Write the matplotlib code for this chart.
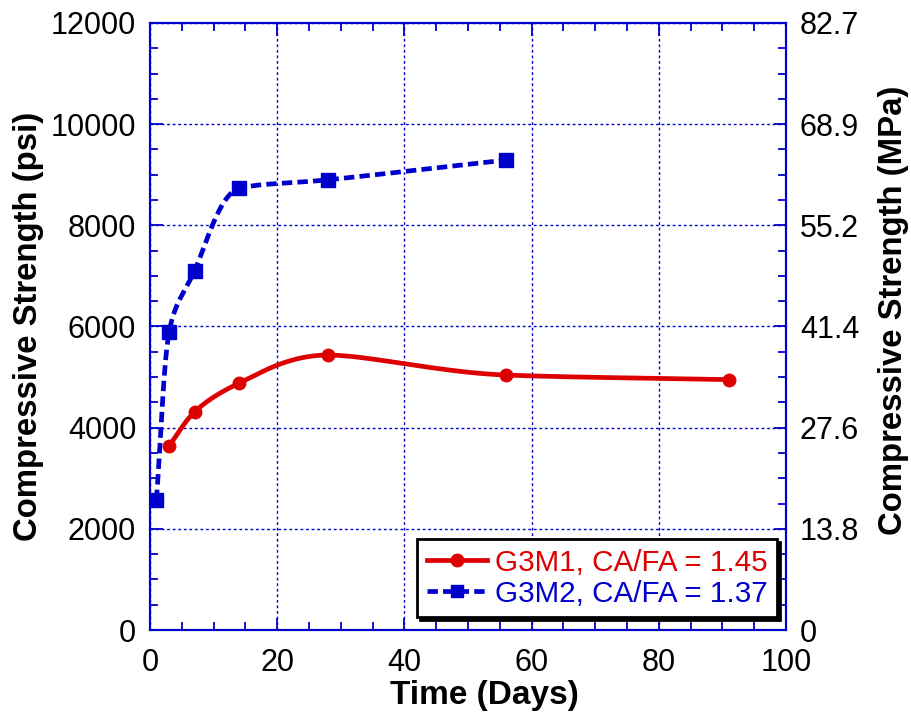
import numpy as np
import matplotlib
matplotlib.use("Agg")
import matplotlib.pyplot as plt
from matplotlib.ticker import MultipleLocator, FixedLocator

plt.rcParams['font.family'] = ['Liberation Sans', 'DejaVu Sans']

# ---- data ----
days_g3m1 = [3, 7, 14, 28, 56, 91]
psi_g3m1 = [3640, 4310, 4880, 5435, 5040, 4950]
days_g3m2 = [1, 3, 7, 14, 28, 56]
psi_g3m2 = [2570, 5890, 7100, 8730, 8900, 9290]
label_g3m1 = "G3M1, CA/FA = 1.45"
label_g3m2 = "G3M2, CA/FA = 1.37"
psi_ticks = [0, 2000, 4000, 6000, 8000, 10000, 12000]
mpa_labels = ["0", "13.8", "27.6", "41.4", "55.2", "68.9", "82.7"]
x_ticks = [0, 20, 40, 60, 80, 100]

RED = '#dd0000'
BLUE = '#0000cc'
XMAX, YMAX = 100.0, 12000.0


def _pchip_1d(t, v, tt):
    h = np.diff(t); d = np.diff(v) / h
    m = np.zeros_like(v)
    for k in range(1, len(t) - 1):
        if d[k - 1] * d[k] > 0:
            w1 = 2 * h[k] + h[k - 1]; w2 = h[k] + 2 * h[k - 1]
            m[k] = (w1 + w2) / (w1 / d[k - 1] + w2 / d[k])
    m[0] = d[0]; m[-1] = d[-1]
    idx = np.clip(np.searchsorted(t, tt) - 1, 0, len(t) - 2)
    s = (tt - t[idx]) / h[idx]
    h00 = 2 * s**3 - 3 * s**2 + 1; h10 = s**3 - 2 * s**2 + s
    h01 = -2 * s**3 + 3 * s**2; h11 = s**3 - s**2
    return h00 * v[idx] + h10 * h[idx] * m[idx] + h01 * v[idx + 1] + h11 * h[idx] * m[idx + 1]


def smooth(x, y, n=500):
    """Parametric monotone cubic through the data points (uniform parameter)."""
    px = np.asarray(x, float)
    py = np.asarray(y, float)
    t = np.arange(len(px), dtype=float)
    tt = np.linspace(0, t[-1], n)
    return _pchip_1d(t, px, tt), _pchip_1d(t, py, tt)


fig = plt.figure(figsize=(9.11, 7.17), dpi=100)
ax = fig.add_axes([0.1647, 0.1213, 0.6981, 0.8467])

LW = 3.4
DASH = (0, (2.2, 1.1))
xs, ys = smooth(days_g3m1, psi_g3m1)
ax.plot(xs, ys, color=RED, lw=LW, zorder=3)
ax.plot(days_g3m1, psi_g3m1, 'o', color=RED, ms=9, zorder=4)
xs, ys = smooth(days_g3m2, psi_g3m2)
ax.plot(xs, ys, color=BLUE, lw=LW, ls=DASH, zorder=3)
ax.plot(days_g3m2, psi_g3m2, 's', color=BLUE, ms=10.5, zorder=4)

# legend proxies
h1, = ax.plot([], [], color=RED, lw=LW, marker='o', ms=9)
h2, = ax.plot([], [], color=BLUE, lw=LW, ls=DASH, marker='s', ms=9)

ax.set_xlim(0, XMAX)
ax.set_ylim(0, YMAX)
ax.xaxis.set_major_locator(FixedLocator(x_ticks))
ax.xaxis.set_minor_locator(MultipleLocator(5))
ax.yaxis.set_major_locator(FixedLocator(psi_ticks))
ax.yaxis.set_minor_locator(MultipleLocator(500))
ax.grid(True, which='major', color=BLUE, ls=(0, (2, 2)), lw=1)
for s in ax.spines.values():
    s.set_color(BLUE)
    s.set_linewidth(1.5)
ax.tick_params(which='both', direction='in', color=BLUE, top=True, labelsize=22,
               labelcolor='black')
ax.tick_params(axis='x', pad=13)
ax.tick_params(axis='y', pad=10)
ax.tick_params(which='major', length=9, width=1.3)
ax.tick_params(which='minor', length=6, width=1.3)
ax.tick_params(axis='y', which='both', right=False)

ax2 = ax.twinx()
ax2.set_ylim(0, YMAX)
ax2.yaxis.set_major_locator(FixedLocator(psi_ticks))
ax2.set_yticklabels(mpa_labels)
ax2.yaxis.set_minor_locator(MultipleLocator(500))
for s in ax2.spines.values():
    s.set_color(BLUE)
    s.set_linewidth(1.5)
ax2.tick_params(which='both', direction='in', color=BLUE, labelsize=22,
                labelcolor='black', pad=10)
ax2.tick_params(which='major', length=9, width=1.3)
ax2.tick_params(which='minor', length=6, width=1.3)

ax.set_xlabel("Time (Days)", fontsize=24, fontweight='bold')
ax.xaxis.set_label_coords(0.526, -0.083)
ax.set_ylabel("Compressive Strength (psi)", fontsize=23.7, fontweight='bold', labelpad=5)
ax2.set_ylabel("Compressive Strength (MPa)", fontsize=23.7, fontweight='bold')
ax2.yaxis.set_label_coords(1.145, 0.527)

leg = ax2.legend([h1, h2], [label_g3m1, label_g3m2], loc='lower right',
                 bbox_to_anchor=(0.986, 0.021), borderaxespad=0, fontsize=21.3,
                 labelcolor='linecolor', fancybox=False, framealpha=1,
                 edgecolor='black', handlelength=2.05, handletextpad=0.25,
                 borderpad=0.32, labelspacing=0.1,
                 shadow={'color': 'black', 'alpha': 1})
leg.get_frame().set_linewidth(2)

fig.savefig("out.png", dpi=100)
